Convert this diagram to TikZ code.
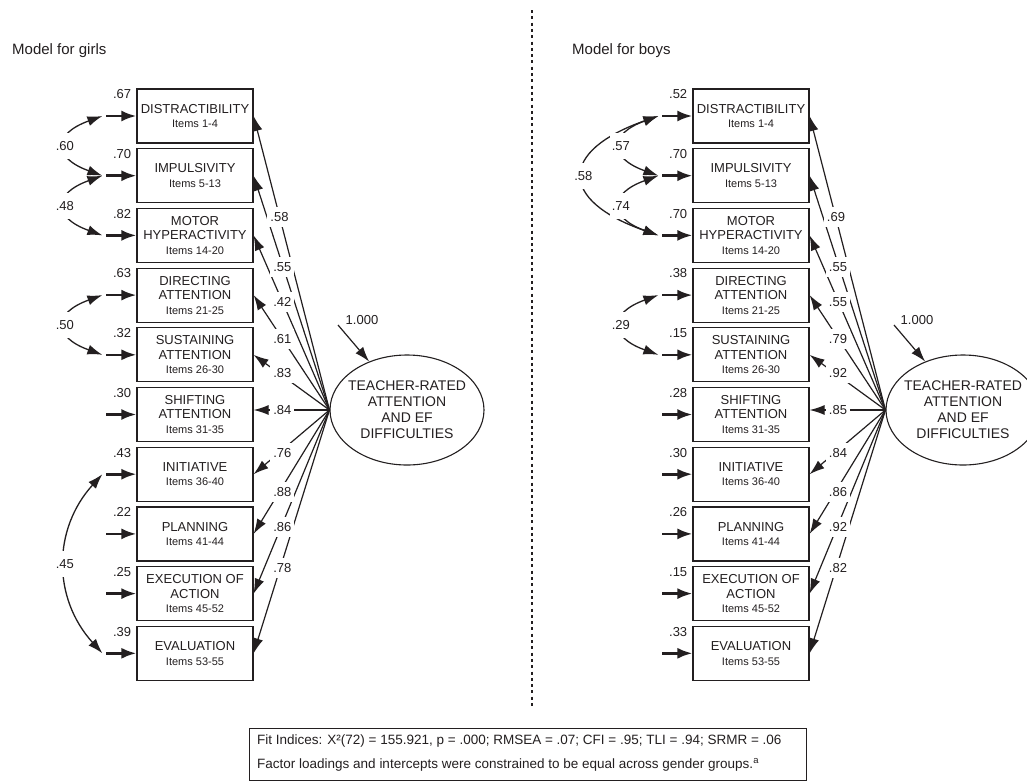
\documentclass[tikz,border=0pt]{standalone}
\usepackage{fontspec}
\setmainfont{Liberation Sans}
\usetikzlibrary{arrows.meta,shapes.geometric}
\definecolor{ink}{HTML}{231F20}
\newcommand\itm{\fontsize{11}{13}\selectfont}
\newcommand\obspair[3]{%
  \node[obs] (L#1) at (195,#2) {#3};
  \node[obs] (R#1) at (751,#2) {#3};}
\begin{document}
\begin{tikzpicture}[x=1pt,y=-1pt,
  every node/.style={text=ink},
  obs/.style={draw=ink,line width=1.2pt,minimum width=116pt,minimum height=54pt,inner sep=0pt,align=center,font=\fontsize{13}{14.5}\selectfont},
  lat/.style={draw=ink,line width=1.1pt,ellipse,minimum width=154pt,minimum height=110pt,inner sep=0pt},
  errarr/.style={draw=ink,line width=2.6pt,-{Latex[length=15pt,width=11pt]}},
  loadarr/.style={draw=ink,line width=1.2pt,-{Latex[length=15pt,width=10pt]}},
  corrarr/.style={draw=ink,line width=1.3pt,{Latex[length=15pt,width=10pt]}-{Latex[length=15pt,width=10pt]}},
  num/.style={font=\fontsize{13}{15}\selectfont,inner sep=0pt},
  loadlbl/.style={num,fill=white,inner xsep=3pt,minimum height=20pt},
  corrlbl/.style={num,fill=white,inner xsep=2pt,minimum height=26pt},
  ttl/.style={font=\fontsize{15}{18}\selectfont,inner sep=0pt,anchor=west},
  latfont/.style={font=\fontsize{14}{16}\selectfont,align=center,text=ink,inner sep=0pt},
  foot/.style={font=\fontsize{13.5}{16}\selectfont,inner sep=0pt,anchor=west},
]
\useasboundingbox[fill=white] (0,0) rectangle (1027,782);

% titles
\node[ttl] (tgirls) at (12,51) {Model for girls};
\node[ttl] (tboys) at (572,51) {Model for boys};

% separator
\draw[ink,line width=2.4pt,dash pattern=on 3pt off 3.3pt] (532,10) -- (532,708);

% observed indicators
\obspair{1}{116}{DISTRACTIBILITY\\\itm Items 1-4}
\obspair{2}{175.7}{IMPULSIVITY\\\itm Items 5-13}
\obspair{3}{235.4}{MOTOR\\HYPERACTIVITY\\\itm Items 14-20}
\obspair{4}{295.1}{DIRECTING\\ATTENTION\\\itm Items 21-25}
\obspair{5}{354.8}{SUSTAINING\\ATTENTION\\\itm Items 26-30}
\obspair{6}{414.5}{SHIFTING\\ATTENTION\\\itm Items 31-35}
\obspair{7}{474.2}{INITIATIVE\\\itm Items 36-40}
\obspair{8}{533.9}{PLANNING\\\itm Items 41-44}
\obspair{9}{593.6}{EXECUTION OF\\ACTION\\\itm Items 45-52}
\obspair{10}{653.3}{EVALUATION\\\itm Items 53-55}

% latent factors
\node[lat,label={[latfont]center:{TEACHER-RATED\\ATTENTION\\AND EF\\DIFFICULTIES}}] (lat1) at (407,410) {};
\node[lat,label={[latfont]center:{TEACHER-RATED\\ATTENTION\\AND EF\\DIFFICULTIES}}] (lat2) at (963,410) {};

% factor variances
\node[num] (fv1) at (362,320) {1.000};
\node[num] (fv2) at (917,320) {1.000};
\coordinate (d1) at (338,325);
\coordinate (d2) at (894,325);
\draw[loadarr] (d1) -- (lat1.128);
\draw[loadarr] (d2) -- (lat2.128);

% error terms and residual variances
\foreach \i/\vl/\vr in {1/.67/.52,2/.70/.70,3/.82/.70,4/.63/.38,5/.32/.15,6/.30/.28,7/.43/.30,8/.22/.26,9/.25/.15,10/.39/.33}{
  \coordinate (eL\i) at ([xshift=-30pt]L\i.west);
  \coordinate (cL\i) at ([xshift=-34pt]L\i.west);
  \coordinate (eR\i) at ([xshift=-30pt]R\i.west);
  \coordinate (cR\i) at ([xshift=-34pt]R\i.west);
  \draw[errarr] (eL\i) -- (L\i.west);
  \draw[errarr] (eR\i) -- (R\i.west);
  \node[num,anchor=east] (vL\i) at ([xshift=-5pt,yshift=-6pt]L\i.north west) {\vl};
  \node[num,anchor=east] (vR\i) at ([xshift=-5pt,yshift=-6pt]R\i.north west) {\vr};
}

% loadings (lines first)
\foreach \i in {1,2,3,4,5,7,8,9,10}{
  \draw[loadarr] (lat1.west) -- (L\i.east);
  \draw[loadarr] (lat2.west) -- (R\i.east);
}
\draw[loadarr] (lat1.west) -- (L6.east |- lat1.west);
\draw[loadarr] (lat2.west) -- (R6.east |- lat2.west);

% loading labels
\foreach \i/\y/\xa/\a/\xb/\b in {1/217/279.5/.58/836/.69, 2/267/282.3/.55/838/.55, 3/302/282.3/.42/838/.55, 4/339/282.3/.61/838/.79, 5/373/282.3/.83/838/.92, 6/410/282.3/.84/838/.85, 7/453/282.3/.76/838/.84, 8/492/282.3/.88/838/.86, 9/527/282.3/.86/838/.92, 10/568/282.3/.78/838/.82}{
  \node[loadlbl] (lL\i) at (\xa,\y) {\a};
  \node[loadlbl] (lR\i) at (\xb,\y) {\b};
}

% correlations, girls
\draw[corrarr] (cL1) .. controls +(-50,18) and +(-50,-18) .. node[corrlbl] (k1) {.60} (cL2);
\draw[corrarr] (cL2) .. controls +(-50,18) and +(-50,-18) .. node[corrlbl] (k2) {.48} (cL3);
\draw[corrarr] (cL4) .. controls +(-50,18) and +(-50,-18) .. node[corrlbl] (k3) {.50} (cL5);
\draw[corrarr] (cL7) .. controls +(-50,55) and +(-50,-55) .. node[corrlbl] (k4) {.45} (cL10);

% correlations, boys
\draw[corrarr] (cR1) .. controls +(-100,35) and +(-100,-35) .. node[corrlbl] (k5) {.58} (cR3);
\draw[corrarr] (cR1) .. controls +(-50,18) and +(-50,-18) .. node[corrlbl] (k6) {.57} (cR2);
\draw[corrarr] (cR2) .. controls +(-50,18) and +(-50,-18) .. node[corrlbl] (k7) {.74} (cR3);
\draw[corrarr] (cR4) .. controls +(-50,18) and +(-50,-18) .. node[corrlbl] (k8) {.29} (cR5);

% footer
\node[draw=ink,line width=1pt,anchor=north west,minimum width=557pt,minimum height=52pt,inner sep=0pt] (fitbox) at (249,728) {};
\node[foot] (fit1) at (257,741) {Fit Indices: X²(72) = 155.921, p = .000; RMSEA = .07; CFI = .95; TLI = .94; SRMR = .06};
\node[foot] (fit2) at (257,765) {Factor loadings and intercepts were constrained to be equal across gender groups.\textsuperscript{a}};
\end{tikzpicture}
\end{document}
